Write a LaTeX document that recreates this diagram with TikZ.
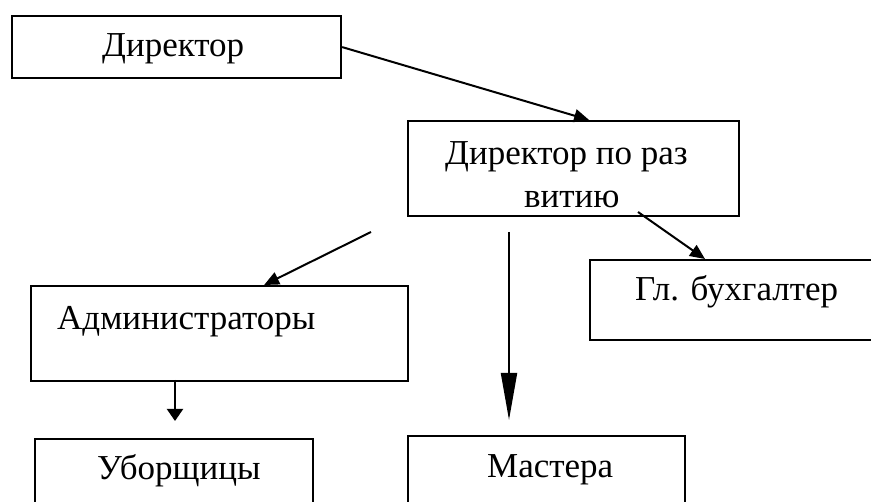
\documentclass[tikz,border=0pt]{standalone}
\usepackage{fontspec}
\setmainfont{Liberation Serif}
\usetikzlibrary{arrows.meta}
\begin{document}
\begin{tikzpicture}[x=1pt,y=-1pt,
  box/.style={draw=black, line width=2.2pt, rectangle, inner sep=0pt, anchor=north west},
  lbl/.style={inner sep=0pt, anchor=base west, font=\fontsize{35}{40}\selectfont},
  conn/.style={line width=2pt, -{Triangle[length=15pt,width=13pt]}},
  shortconn/.style={line width=2pt, -{Triangle[length=12pt,width=16pt]}},
  longconn/.style={line width=2pt, -{Triangle[length=47pt,width=16pt]}}]
\useasboundingbox (0,0) rectangle (871,502);
\clip (0,0) rectangle (871,502);
% boxes
\node[box, minimum width=329pt, minimum height=62pt] (dir) at (11,15) {};
\node[box, minimum width=331pt, minimum height=95pt] (dev) at (407,120) {};
\node[box, minimum width=300pt, minimum height=80pt] (acc) at (589,259) {};
\node[box, minimum width=377pt, minimum height=95pt] (adm) at (30,285) {};
\node[box, minimum width=278pt, minimum height=90pt] (cln) at (34,438) {};
\node[box, minimum width=277pt, minimum height=90pt] (mst) at (407,435) {};
% texts
\node[lbl] (tdir) at (102,57) {Директор};
\node[lbl] (tdev1) at (445,165) {Директор по раз};
\node[lbl] (tdev2) at (524,208) {витию};
\node[lbl] (tacc) at (635,301) {Гл. бухгалтер};
\node[lbl] (tadm) at (57,330) {Администраторы};
\node[lbl] (tcln) at (97,480) {Уборщицы};
\node[lbl] (tmst) at (487,478) {Мастера};
% connector ends
\coordinate (a2s) at (638,212);
\coordinate (a3s) at (371,232);
\coordinate (a4s) at (175,380);
\coordinate (a4e) at (175,421);
\coordinate (a5s) at (509,232);
\coordinate (a5e) at (509,420);
% connectors
\draw[conn] (dir.east) -- ([xshift=15.5pt]dev.north);
\draw[conn] (a2s) -- ([xshift=116pt]acc.north west);
\draw[conn] (a3s) -- ([xshift=44.5pt]adm.north);
\draw[shortconn] (a4s) -- (a4e);
\draw[longconn] (a5s) -- (a5e);
\end{tikzpicture}
\end{document}
